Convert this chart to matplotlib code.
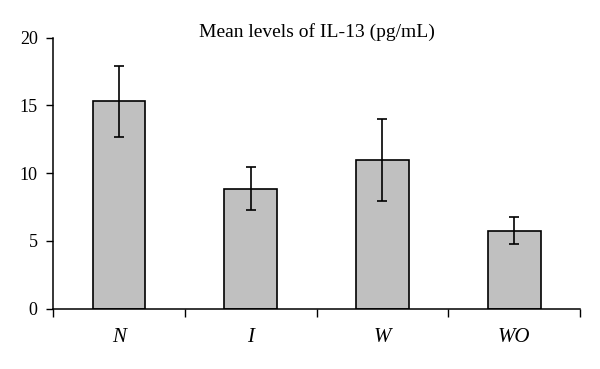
"""Mean IL-13 levels by group, bar chart with error bars."""

import matplotlib.pyplot as plt
import numpy as np

groups = ["N", "I", "W", "WO"]
means = [15.3, 8.87, 10.97, 5.75]
errors = [2.6, 1.57, 3.03, 1.0]

plt.rcParams["font.family"] = ["Liberation Serif", "DejaVu Serif"]

fig = plt.figure(figsize=(6.0, 3.69), dpi=100)
ax = fig.add_axes([0.0883, 0.1634, 0.8787, 0.7344])

x = np.arange(len(groups))
ax.bar(x, means, width=0.4, color="#c0c0c0", edgecolor="black", linewidth=1.2)
ax.errorbar(x, means, yerr=errors, fmt="none", ecolor="black", elinewidth=1.2,
            capsize=3.6, capthick=1.2)

ax.set_xlim(-0.5, len(groups) - 0.5)
ax.set_ylim(0, 20)
ax.set_yticks([0, 5, 10, 15, 20])

# boundary ticks below the axis, labels centred on bars
ax.set_xticks(np.arange(len(groups) + 1) - 0.5)
ax.set_xticklabels([])
ax.set_xticks(x, minor=True)
ax.set_xticklabels(groups, minor=True, fontstyle="italic", fontsize=15)
ax.tick_params(axis="x", which="major", direction="out", length=6, width=1)
ax.tick_params(axis="x", which="minor", length=0, pad=14)
ax.tick_params(axis="y", direction="out", length=5, width=1, labelsize=13, pad=6)

for s in ["top", "right"]:
    ax.spines[s].set_visible(False)
for s in ["left", "bottom"]:
    ax.spines[s].set_linewidth(1.1)

# explicit y keeps matplotlib from lifting the title above the "20" label
ax.set_title("Mean levels of IL-13 (pg/mL)", fontsize=14, y=1.0, pad=0.5)

fig.savefig("out.png", dpi=100)
